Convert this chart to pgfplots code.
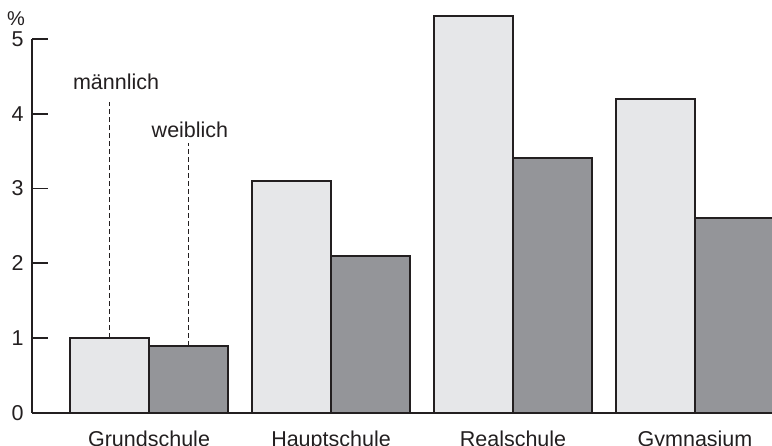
\documentclass[border=0pt]{standalone}
\usepackage{fontspec}
\setmainfont{Liberation Sans}
\usepackage{pgfplots}
\pgfplotsset{compat=1.18}
\begin{document}
\begin{tikzpicture}
  % colors
  \definecolor{barlight}{RGB}{230, 231, 233}
  \definecolor{bardark}{RGB}{148, 149, 153}
  \definecolor{myblack}{RGB}{35, 31, 32}
  \begin{axis}[
      name=ax,
      scale only axis,
      width=740pt, height=413pt,
      xmin=-0.643, xmax=3.423,
      ymin=0, ymax=5.52,
      enlargelimits=false,
      clip=false,
      axis x line=bottom,
      axis y line=left,
      axis line style={-, line width=1.8pt, draw=myblack},
      y axis line style={draw=none},
      % ticks
      ytick={0,1,2,3,4,5},
      xtick={0,1,2,3},
      xticklabels={Grundschule,Hauptschule,Realschule,Gymnasium},
      xtick style={draw=none},
      ytick style={line width=1.8pt, draw=myblack},
      tick align=inside,
      major tick length=16pt,
      /pgf/number format/assume math mode=true,
      tick label style={font=\fontsize{21.5}{25}\selectfont, text=myblack},
      xticklabel style={anchor=north, inner sep=0pt, yshift=-2pt},
      yticklabel style={anchor=east, xshift=-5pt},
      % bars
      ybar=0pt,
      bar width=79pt,
    ]
    % maennlich
    \addplot [draw=myblack, fill=barlight, line width=1.8pt] coordinates
      {
        (0,1.0)
        (1,3.1)
        (2,5.31)
        (3,4.2)
      };
    % weiblich
    \addplot [draw=myblack, fill=bardark, line width=1.8pt] coordinates
      {
        (0,0.9)
        (1,2.1)
        (2,3.41)
        (3,2.61)
      };
    % y axis line only up to 5
    \draw [myblack, line width=1.8pt] (axis cs:-0.643,0) -- (axis cs:-0.643,5);
    \node [font=\fontsize{20}{24}\selectfont, text=myblack] at (axis cs:-0.643,5) [xshift=-16pt, yshift=20pt] {\%};
    % annotations
    \draw [myblack, line width=1.1pt, dash pattern=on 5pt off 3pt] (axis cs:-0.217,1.0) -- (axis cs:-0.217,4.16);
    \draw [myblack, line width=1.1pt, dash pattern=on 5pt off 3pt] (axis cs:0.217,0.9) -- (axis cs:0.217,3.61);
    \node [font=\fontsize{21.5}{25}\selectfont, text=myblack] at (axis cs:-0.181,4.43) {männlich};
    \node [font=\fontsize{21.5}{25}\selectfont, text=myblack] at (axis cs:0.225,3.79) {weiblich};
  \end{axis}
  \pgfresetboundingbox
  \path ([shift={(-32pt,-33pt)}]ax.south west) rectangle (ax.north east);
\end{tikzpicture}
\end{document}
